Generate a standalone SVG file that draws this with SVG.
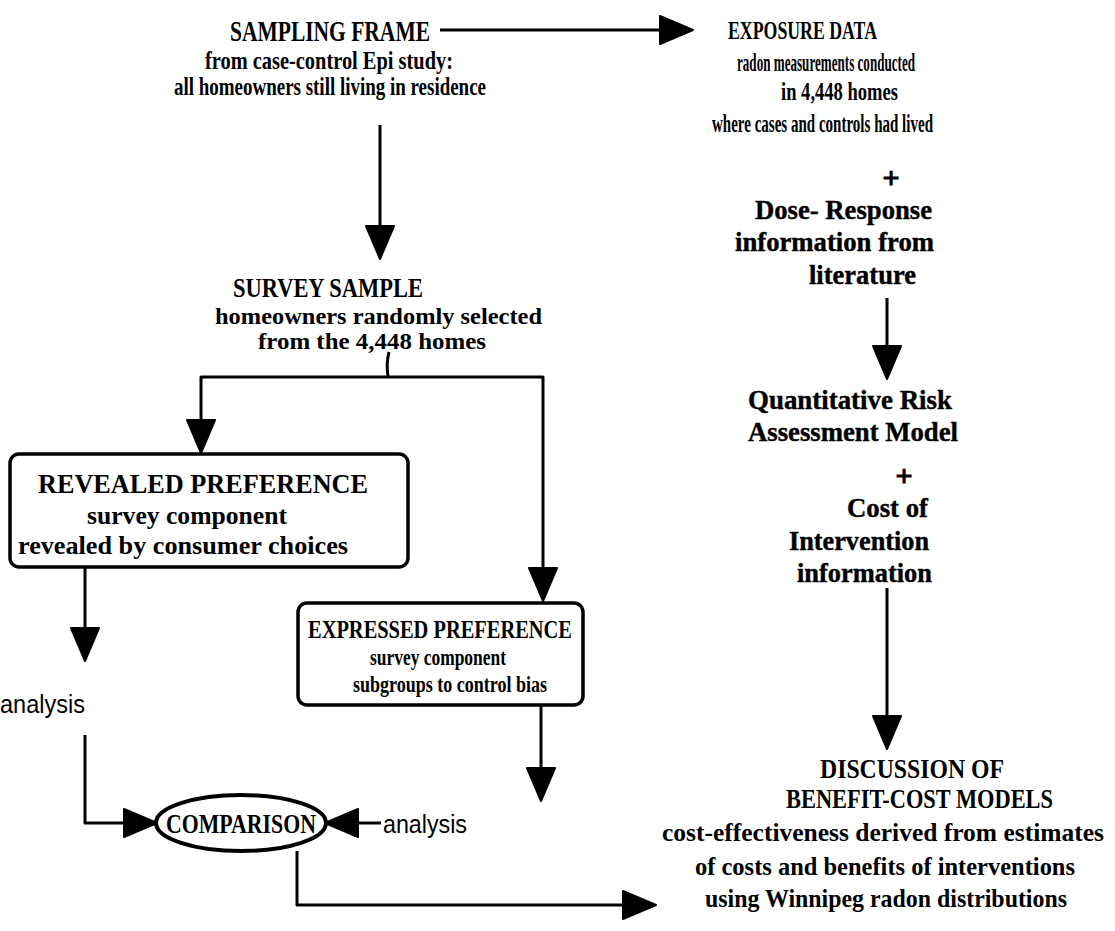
<svg xmlns="http://www.w3.org/2000/svg" xmlns:xlink="http://www.w3.org/1999/xlink" width="1115" height="931" viewBox="0 0 1115 931">
  <style>
    .bg { fill: #ffffff; }
    .t { font-family: "Liberation Serif", "Times New Roman", serif; font-weight: bold; fill: #000; }
    .h { font-size: 30px; }
    .s { font-size: 25px; }
    .k { font-size: 27px; stroke: #000; stroke-width: 0.4; }
    .plus { font-size: 30px; stroke: #000; stroke-width: 1; }
    .a { font-family: "Liberation Sans Narrow", "Liberation Sans", Arial, sans-serif; font-size: 26px; fill: #000; }
    .ln { fill: none; stroke: #000; stroke-width: 3; stroke-linejoin: round; }
    .box { fill: #fff; stroke: #000; stroke-width: 3.5; }
    .head { fill: #000; stroke: #000; stroke-width: 2; stroke-linejoin: round; }
  </style>
  <defs>
    <!-- filled arrowhead pointing along +x, tip at origin -->
    <path id="ah" class="head" d="M0,0 L-33,-14 L-33,14 Z"/>
  </defs>

  <rect class="bg" x="0" y="0" width="1115" height="931"/>

  <!-- connectors -->
  <g id="connectors">
    <!-- sampling frame to exposure data -->
    <line class="ln" x1="440" y1="30" x2="660" y2="30"/>
    <use xlink:href="#ah" transform="translate(693,30)"/>
    <!-- sampling frame to survey sample -->
    <line class="ln" x1="380" y1="125" x2="380" y2="226"/>
    <use xlink:href="#ah" transform="translate(380,259) rotate(90)"/>
    <!-- survey sample branching -->
    <path class="ln" d="M389,352 Q386,363 388,377"/>
    <path class="ln" d="M201,422 L201,377 L543,377 L543,570"/>
    <use xlink:href="#ah" transform="translate(201,453) rotate(90)"/>
    <use xlink:href="#ah" transform="translate(543,601) rotate(90)"/>
    <!-- revealed preference to analysis -->
    <line class="ln" x1="85" y1="567" x2="85" y2="630"/>
    <use xlink:href="#ah" transform="translate(85,661) rotate(90)"/>
    <!-- analysis to comparison (left) -->
    <path class="ln" d="M85,735 L85,823 L126,823"/>
    <use xlink:href="#ah" transform="translate(157,823)"/>
    <!-- expressed preference to analysis -->
    <line class="ln" x1="541" y1="705" x2="541" y2="770"/>
    <use xlink:href="#ah" transform="translate(541,801) rotate(90)"/>
    <!-- analysis to comparison (right) -->
    <line class="ln" x1="381" y1="823" x2="356" y2="823"/>
    <use xlink:href="#ah" transform="translate(325,823) rotate(180)"/>
    <!-- comparison to discussion -->
    <path class="ln" d="M297,851 L297,905 L624,905"/>
    <use xlink:href="#ah" transform="translate(656,905)"/>
    <!-- right column -->
    <line class="ln" x1="887" y1="298" x2="887" y2="348"/>
    <use xlink:href="#ah" transform="translate(887,379) rotate(90)"/>
    <line class="ln" x1="887" y1="588" x2="887" y2="718"/>
    <use xlink:href="#ah" transform="translate(887,749) rotate(90)"/>
  </g>

  <g id="sampling-frame">
    <text class="t h" x="230" y="41" textLength="200" lengthAdjust="spacingAndGlyphs">SAMPLING FRAME</text>
    <text class="t s" x="205" y="69" textLength="248" lengthAdjust="spacingAndGlyphs">from case-control  Epi study:</text>
    <text class="t s" x="174" y="95" textLength="312" lengthAdjust="spacingAndGlyphs">all homeowners still living in residence</text>
  </g>

  <g id="exposure-data">
    <text class="t" font-size="25" x="728" y="39" textLength="149" lengthAdjust="spacingAndGlyphs">EXPOSURE DATA</text>
    <text class="t s" x="737" y="71" textLength="178" lengthAdjust="spacingAndGlyphs">radon measurements conducted</text>
    <text class="t s" x="781" y="100" textLength="117" lengthAdjust="spacingAndGlyphs">in 4,448 homes</text>
    <text class="t s" x="712" y="132" textLength="221" lengthAdjust="spacingAndGlyphs">where cases and controls had lived</text>
  </g>

  <g id="dose-response">
    <text class="t plus" x="891" y="188" text-anchor="middle">+</text>
    <text class="t k" x="755" y="219" textLength="177" lengthAdjust="spacingAndGlyphs">Dose- Response</text>
    <text class="t k" x="735" y="251" textLength="199" lengthAdjust="spacingAndGlyphs">information from</text>
    <text class="t k" x="809" y="284" textLength="107" lengthAdjust="spacingAndGlyphs">literature</text>
  </g>

  <g id="risk-model">
    <text class="t k" x="748" y="409" textLength="204" lengthAdjust="spacingAndGlyphs">Quantitative Risk</text>
    <text class="t k" x="748" y="441" textLength="210" lengthAdjust="spacingAndGlyphs">Assessment Model</text>
  </g>

  <g id="intervention-cost">
    <text class="t plus" x="904" y="486" text-anchor="middle">+</text>
    <text class="t k" x="847" y="517" textLength="81" lengthAdjust="spacingAndGlyphs">Cost of</text>
    <text class="t k" x="789" y="550" textLength="140" lengthAdjust="spacingAndGlyphs">Intervention</text>
    <text class="t k" x="797" y="582" textLength="135" lengthAdjust="spacingAndGlyphs">information</text>
  </g>

  <g id="benefit-cost">
    <text class="t" font-size="27" x="820" y="778" textLength="184" lengthAdjust="spacingAndGlyphs">DISCUSSION OF</text>
    <text class="t" font-size="27" x="786" y="808" textLength="267" lengthAdjust="spacingAndGlyphs">BENEFIT-COST MODELS</text>
    <text class="t s" x="662" y="841" textLength="442" lengthAdjust="spacingAndGlyphs">cost-effectiveness derived from estimates</text>
    <text class="t s" x="695" y="875" textLength="380" lengthAdjust="spacingAndGlyphs">of costs and benefits of interventions</text>
    <text class="t s" x="705" y="907" textLength="362" lengthAdjust="spacingAndGlyphs">using Winnipeg radon distributions</text>
  </g>

  <g id="survey-sample">
    <text class="t" font-size="28" x="233" y="297" textLength="190" lengthAdjust="spacingAndGlyphs">SURVEY SAMPLE</text>
    <text class="t" font-size="23" x="215" y="324" textLength="327" lengthAdjust="spacingAndGlyphs">homeowners randomly selected</text>
    <text class="t" font-size="23" x="258" y="349" textLength="228" lengthAdjust="spacingAndGlyphs">from the 4,448 homes</text>
  </g>

  <g id="revealed-preference">
    <rect class="box" x="10" y="454" width="398" height="113" rx="9"/>
    <text class="t" font-size="27" x="38" y="493" textLength="330" lengthAdjust="spacingAndGlyphs">REVEALED PREFERENCE</text>
    <text class="t s" x="87" y="524" textLength="200" lengthAdjust="spacingAndGlyphs">survey component</text>
    <text class="t s" x="18" y="554" textLength="330" lengthAdjust="spacingAndGlyphs">revealed by consumer choices</text>
  </g>

  <g id="expressed-preference">
    <rect class="box" x="298" y="603" width="285" height="102" rx="9"/>
    <text class="t" font-size="25" x="308" y="638" textLength="264" lengthAdjust="spacingAndGlyphs">EXPRESSED PREFERENCE</text>
    <text class="t" font-size="23" x="370" y="665" textLength="136" lengthAdjust="spacingAndGlyphs">survey component</text>
    <text class="t" font-size="23" x="353" y="692" textLength="194" lengthAdjust="spacingAndGlyphs">subgroups to control bias</text>
  </g>

  <g id="analysis-revealed">
    <text class="a" x="0" y="713" textLength="85" lengthAdjust="spacingAndGlyphs">analysis</text>
  </g>

  <g id="analysis-expressed">
    <text class="a" x="383" y="833" textLength="84" lengthAdjust="spacingAndGlyphs">analysis</text>
  </g>

  <g id="comparison">
    <ellipse cx="241" cy="823" rx="85" ry="28" fill="#fff" stroke="#000" stroke-width="4"/>
    <text class="t" font-size="27" x="241" y="833" text-anchor="middle" textLength="150" lengthAdjust="spacingAndGlyphs">COMPARISON</text>
  </g>
</svg>
